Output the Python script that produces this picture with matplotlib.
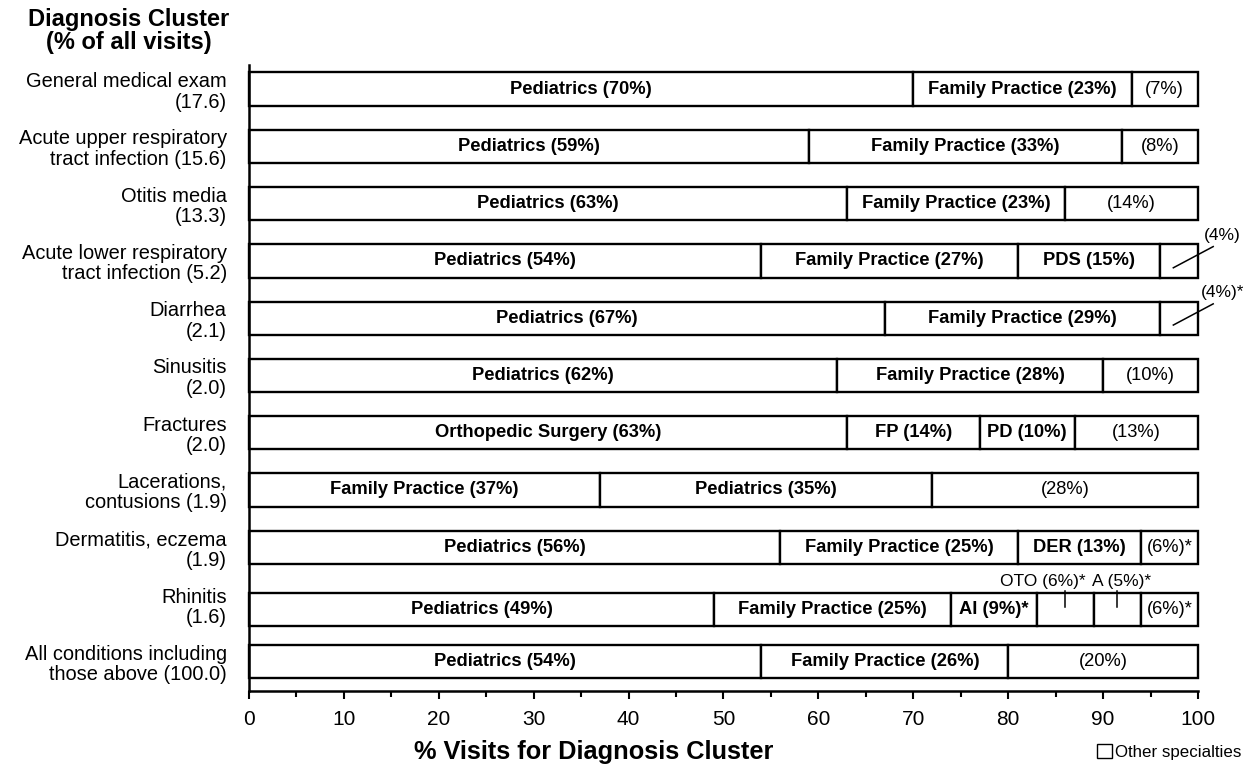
import numpy as np
import matplotlib.pyplot as plt
from matplotlib.patches import Patch

plt.rcParams['font.family'] = ['Liberation Sans', 'DejaVu Sans']

# diagnosis clusters (share of all visits in brackets)
clusters = ["General medical exam\n(17.6)",
            "Acute upper respiratory\ntract infection (15.6)",
            "Otitis media\n(13.3)",
            "Acute lower respiratory\ntract infection (5.2)",
            "Diarrhea\n(2.1)",
            "Sinusitis\n(2.0)",
            "Fractures\n(2.0)",
            "Lacerations,\ncontusions (1.9)",
            "Dermatitis, eczema\n(1.9)",
            "Rhinitis\n(1.6)",
            "All conditions including\nthose above (100.0)"]

# specialty for each segment, "" = other specialties
specialties = [["Pediatrics", "Family Practice", ""],
               ["Pediatrics", "Family Practice", ""],
               ["Pediatrics", "Family Practice", ""],
               ["Pediatrics", "Family Practice", "PDS", ""],
               ["Pediatrics", "Family Practice", ""],
               ["Pediatrics", "Family Practice", ""],
               ["Orthopedic Surgery", "FP", "PD", ""],
               ["Family Practice", "Pediatrics", ""],
               ["Pediatrics", "Family Practice", "DER", ""],
               ["Pediatrics", "Family Practice", "AI", "OTO", "A", ""],
               ["Pediatrics", "Family Practice", ""]]

shares = [[70, 23, 7],
          [59, 33, 8],
          [63, 23, 14],
          [54, 27, 15, 4],
          [67, 29, 4],
          [62, 28, 10],
          [63, 14, 10, 13],
          [37, 35, 28],
          [56, 25, 13, 6],
          [49, 25, 9, 6, 5, 6],
          [54, 26, 20]]

# segments marked with an asterisk
starred = [(4, 2), (8, 3), (9, 2), (9, 3), (9, 4), (9, 5)]
# segments too small for an inside label
callout_side = [(3, 3), (4, 2)]
callout_top = [(9, 3), (9, 4)]

ticks = list(range(0, 101, 10))

fig = plt.figure(figsize=(12.43, 7.66), dpi=100)
ax = fig.add_axes([0.2003, 0.0979, 0.7635, 0.8172])

ypos = np.arange(len(clusters))
bar_y = ypos.astype(float)
bar_y[9] += 0.09   # rhinitis bar sits a little lower to make room above
bar_h = 0.58

for i, (names, vals) in enumerate(zip(specialties, shares)):
    left = 0
    yc = bar_y[i]
    for j, (nm, v) in enumerate(zip(names, vals)):
        bars = ax.barh(yc, v, left=left, height=bar_h, color='white',
                       edgecolor='black', linewidth=1.7)
        for b in bars:
            b.set_clip_on(False)
        lbl = f"({v}%)" if nm == "" else f"{nm} ({v}%)"
        if (i, j) in starred:
            lbl += "*"
        mid = left + v / 2
        if (i, j) in callout_side:
            ax.plot([left + v * 0.35, 101.6], [yc + 0.12, yc - 0.25],
                    color='black', lw=1.1, clip_on=False)
            ax.text(102.6, yc - 0.45, lbl, ha='center', va='center',
                    fontsize=12.5)
        elif (i, j) in callout_top:
            dx = -2.3 if nm == "OTO" else 0.4
            ax.plot([mid, mid], [yc - bar_h / 2 - 0.04, yc - 0.05],
                    color='black', lw=1.1, clip_on=False)
            ax.text(mid + dx, yc - bar_h / 2 - 0.2, lbl, ha='center',
                    va='center', fontsize=12.5)
        else:
            ax.text(mid, yc, lbl, ha='center', va='center',
                    fontsize=13.2, fontweight='normal' if nm == "" else 'bold')
        left += v

ax.set_xlim(0, 100)
ax.set_ylim(10.51, -0.42)
ax.set_xticks(ticks)
ax.set_xticks(np.arange(5, 100, 10), minor=True)
ax.set_xticklabels([str(t) for t in ticks])
ax.tick_params(axis='x', which='major', length=6, width=1.5, labelsize=15, pad=8)
ax.tick_params(axis='x', which='minor', length=4, width=1.5)
ax.set_yticks(ypos)
ax.set_yticklabels(clusters)
ax.tick_params(axis='y', length=0, pad=16, labelsize=14.4)
for t in ax.get_yticklabels():
    t.set_linespacing(1.1)

for s in ['top', 'right']:
    ax.spines[s].set_visible(False)
for s in ['left', 'bottom']:
    ax.spines[s].set_linewidth(1.8)

fig.text(129 / 1243, 1 - 8 / 766, "Diagnosis Cluster\n(% of all visits)",
         ha='center', va='top', fontsize=17, fontweight='bold', linespacing=1.0)
fig.text(594 / 1243, 1 - 752 / 766, "% Visits for Diagnosis Cluster",
         ha='center', va='center', fontsize=18.3, fontweight='bold')
fig.legend(handles=[Patch(facecolor='white', edgecolor='black', linewidth=1)],
           labels=["Other specialties"], loc='center left',
           bbox_to_anchor=(1097 / 1243, 1 - 752 / 766), frameon=False,
           handlelength=0.9, handleheight=0.9, handletextpad=0.15,
           borderpad=0, borderaxespad=0, fontsize=12.2)

fig.savefig("out.png", dpi=100)
